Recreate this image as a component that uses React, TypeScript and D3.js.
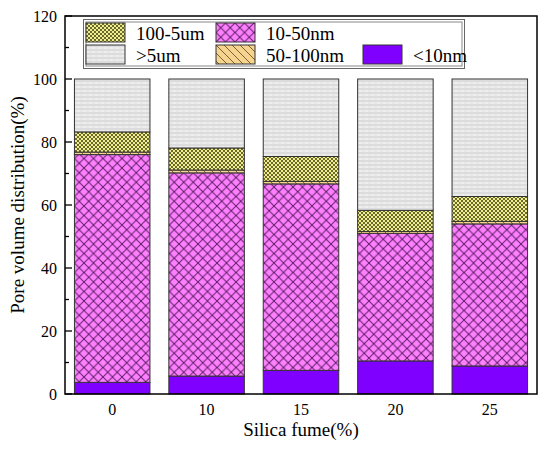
import React from 'react'
import { scaleBand, scaleLinear, stack } from 'd3'

// Stacked pore-volume distribution by silica fume dosage.

const categories = ['0', '10', '15', '20', '25']
const keys = ['lt10', 'n10_50', 'n50_100', 'u100_5', 'gt5']
const lt10 = [3.7, 5.7, 7.5, 10.5, 8.9]
const n10_50 = [72.3, 64.5, 59.2, 40.5, 45.1]
const n50_100 = [0.8, 0.9, 0.8, 0.6, 0.8]
const u100_5 = [6.4, 7.0, 7.9, 6.7, 7.9]
const gt5 = [16.8, 21.9, 24.6, 41.7, 37.3]
const yTicks = [0, 20, 40, 60, 80, 100, 120]
const yMinor = [10, 30, 50, 70, 90, 110]

const legendItems = [
  { key: 'u100_5', label: '100-5um', col: 0, row: 0 },
  { key: 'n10_50', label: '10-50nm', col: 1, row: 0 },
  { key: 'gt5', label: '>5um', col: 0, row: 1 },
  { key: 'n50_100', label: '50-100nm', col: 1, row: 1 },
  { key: 'lt10', label: '<10nm', col: 2, row: 1 },
]

const FILL: Record<string, string> = {
  lt10: '#8000ff',
  n10_50: 'url(#pPink)',
  n50_100: 'url(#pOrange)',
  u100_5: 'url(#pYellow)',
  gt5: 'url(#pGrey)',
}

const FONT = "'Liberation Serif', 'Times New Roman', Times, serif"

export default function App() {
  const width = 550
  const height = 460
  const m = { top: 16, right: 13, bottom: 66, left: 65 }
  const iw = width - m.left - m.right
  const ih = height - m.top - m.bottom

  const rows = categories.map((c, i) => ({
    cat: c,
    lt10: lt10[i],
    n10_50: n10_50[i],
    n50_100: n50_100[i],
    u100_5: u100_5[i],
    gt5: gt5[i],
  }))
  const series = stack<any>().keys(keys)(rows)

  const x = scaleBand().domain(categories).range([0, iw]).paddingInner(0.2).paddingOuter(0.1)
  const y = scaleLinear().domain([0, 120]).range([ih, 0])

  const colX = [86, 216, 363]
  const rowY = [23, 45]

  return (
    <svg
      width={width}
      height={height}
      style={{ position: 'absolute', left: 0, top: 0, background: '#fff', fontFamily: FONT }}
    >
      <defs>
        <pattern id="pPink" width={9.5} height={9.5} patternUnits="userSpaceOnUse">
          <rect width={9.5} height={9.5} fill="#ff80ff" />
          <path d="M0,0 L9.5,9.5 M9.5,0 L0,9.5" stroke="#5e1f66" strokeWidth={1} />
        </pattern>
        <pattern id="pOrange" width={8} height={8} patternUnits="userSpaceOnUse">
          <rect width={8} height={8} fill="#f6d48e" />
          <path d="M0,0 L8,8 M-2,6 L2,10 M6,-2 L10,2" stroke="#6b5330" strokeWidth={0.9} />
        </pattern>
        <pattern id="pYellow" width={4} height={4} patternUnits="userSpaceOnUse">
          <rect width={4} height={4} fill="#f0ee8c" />
          <rect x={0} y={0} width={2} height={2} fill="#6a6a2e" />
          <rect x={2} y={2} width={2} height={2} fill="#6a6a2e" />
        </pattern>
        <pattern id="pGrey" width={6} height={4} patternUnits="userSpaceOnUse">
          <rect width={6} height={4} fill="#e8e8e8" />
          <path d="M0,1 L6,1" stroke="#d0d0d0" strokeWidth={1} />
          <path d="M0,3 L3,3" stroke="#f6f6f6" strokeWidth={0.8} />
        </pattern>
      </defs>

      <g transform={`translate(${m.left},${m.top})`}>
        {series.map((s) => (
          <g key={s.key}>
            {s.map((d, i) => (
              <rect
                key={i}
                x={x(categories[i]) ?? 0}
                y={y(d[1])}
                width={x.bandwidth()}
                height={y(d[0]) - y(d[1])}
                fill={FILL[s.key]}
                stroke="#333"
                strokeWidth={1}
              />
            ))}
          </g>
        ))}

        {yTicks.map((t) => (
          <g key={t}>
            <line x1={0} x2={7} y1={y(t)} y2={y(t)} stroke="#000" strokeWidth={1.3} />
            <text x={-8} y={y(t)} textAnchor="end" dominantBaseline="central" fontSize={16}>
              {t}
            </text>
          </g>
        ))}
        {yMinor.map((t) => (
          <line key={t} x1={0} x2={4} y1={y(t)} y2={y(t)} stroke="#000" strokeWidth={1.3} />
        ))}

        {categories.map((c) => (
          <text
            key={c}
            x={(x(c) ?? 0) + x.bandwidth() / 2}
            y={ih + 15}
            textAnchor="middle"
            dominantBaseline="central"
            fontSize={16}
          >
            {c}
          </text>
        ))}

        <rect x={0} y={0} width={iw} height={ih} fill="none" stroke="#000" strokeWidth={1.5} />

        <text x={iw / 2} y={ih + 42} textAnchor="middle" fontSize={19}>
          Silica fume(%)
        </text>
        <text
          transform={`translate(${-m.left + 24},${ih / 2}) rotate(-90)`}
          textAnchor="middle"
          fontSize={19}
        >
          Pore volume distribution(%)
        </text>
      </g>

      <g>
        <rect x={83.5} y={19.5} width={381} height={49} fill="#fff" stroke="#666" strokeWidth={1} />
        <rect x={86} y={22} width={376} height={44} fill="none" stroke="#888" strokeWidth={1} />
        {legendItems.map((it) => (
          <g key={it.key} transform={`translate(${colX[it.col]},${rowY[it.row]})`}>
            <rect x={0} y={0} width={39} height={19} fill={FILL[it.key]} stroke="#333" strokeWidth={1} />
            <text x={50} y={10} dominantBaseline="central" fontSize={19}>
              {it.label}
            </text>
          </g>
        ))}
      </g>
    </svg>
  )
}
